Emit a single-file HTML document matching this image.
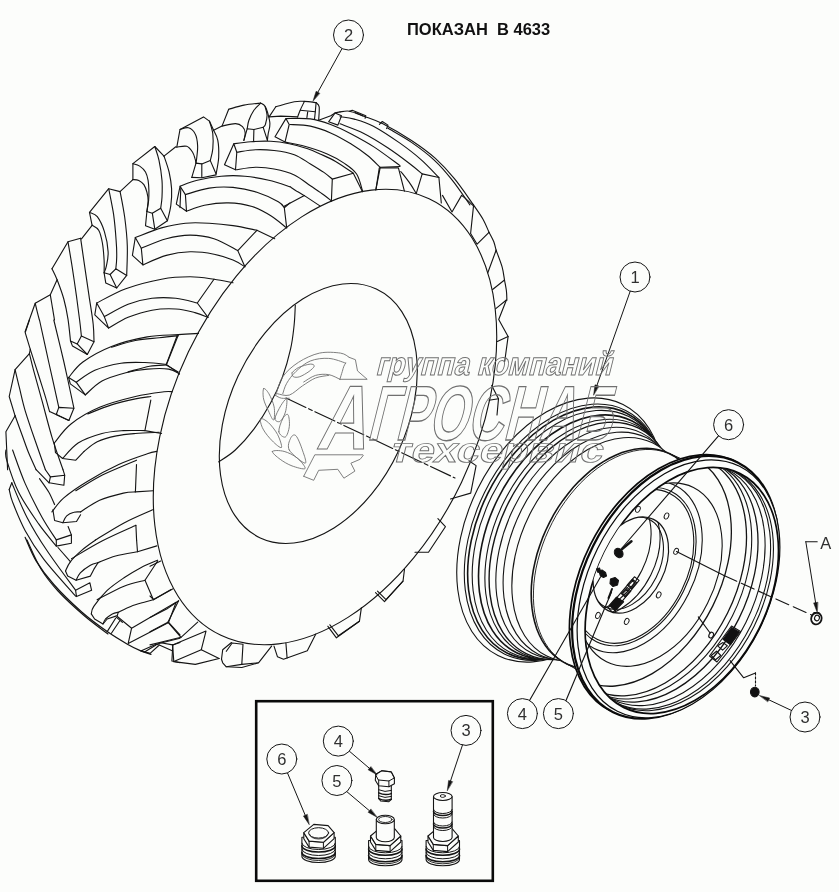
<!DOCTYPE html>
<html lang="ru"><head><meta charset="utf-8"><title>ПОКАЗАН В 4633</title>
<style>
html,body{margin:0;padding:0;background:#fcfdfb;}
body{width:839px;height:892px;overflow:hidden;}
svg{display:block;font-family:"Liberation Sans",sans-serif;}
path,ellipse,circle{stroke-linecap:round;stroke-linejoin:round;}
</style></head><body>
<svg width="839" height="892" viewBox="0 0 839 892">
<rect width="839" height="892" fill="#fcfdfb"/>
<!-- 00_ellipses.txt -->
<ellipse cx="325.0" cy="417.0" rx="151.3" ry="241.8" transform="rotate(25.5 325.0 417.0)" fill="none" stroke="#141414" stroke-width="1.12"/>
<ellipse cx="318.3" cy="413.5" rx="88.5" ry="137.3" transform="rotate(25.0 318.3 413.5)" fill="none" stroke="#141414" stroke-width="1.12"/>
<path d="M295.3 305.3 C295.1 308.6 294.9 318.1 294.1 325.3 C293.3 332.6 292.6 340.2 290.6 348.8 C288.7 357.4 285.7 368.1 282.4 377.1 C279.1 386.1 275.3 394.4 270.6 403.0 C265.9 411.6 260.0 421.0 254.1 428.8 C248.2 436.6 241.2 444.5 235.3 450.0 C229.4 455.5 221.6 459.8 218.8 461.8" fill="none" stroke="#141414" stroke-width="1.12"/>
<!-- 10_lugs_left.txt -->
<path d="M132.9 179.6 L132.9 163.6 L154.8 146.5 L164.0 156.1" fill="none" stroke="#141414" stroke-width="1.12"/>
<path d="M132.9 163.6 C134.1 164.0 137.6 164.7 139.7 166.1 C141.8 167.5 144.1 169.6 145.5 172.0 C146.9 174.4 147.5 177.3 148.1 180.4 C148.6 183.5 148.8 187.1 148.9 190.5 C149.0 193.9 148.9 197.1 148.6 200.6 C148.2 204.1 147.2 209.7 146.9 211.5" fill="none" stroke="#141414" stroke-width="1.12"/>
<path d="M132.9 179.6 C133.9 179.7 137.0 179.6 138.8 180.4 C140.6 181.3 142.5 182.7 143.9 184.6 C145.2 186.6 146.2 189.5 146.9 192.2 C147.6 194.8 148.1 197.4 148.1 200.6 C148.1 203.8 147.1 209.7 146.9 211.5" fill="none" stroke="#141414" stroke-width="1.12"/>
<path d="M154.8 146.5 C155.5 148.8 157.8 154.6 159.0 160.3 C160.2 165.9 161.5 174.3 162.0 180.4 C162.5 186.6 162.2 192.6 162.0 197.2 C161.8 201.8 160.9 206.3 160.7 208.2" fill="none" stroke="#141414" stroke-width="1.12"/>
<path d="M164.0 156.1 C164.9 158.7 167.8 166.6 169.1 172.0 C170.3 177.5 171.3 183.2 171.6 188.8 C171.9 194.4 171.5 200.3 170.8 205.6 C170.1 211.0 168.0 218.2 167.4 220.8" fill="none" stroke="#141414" stroke-width="1.12"/>
<path d="M146.9 211.5 L152.3 213.2 L160.7 208.2 L167.4 220.8 L154.8 229.2 L145.5 225.8 L146.9 211.5" fill="none" stroke="#141414" stroke-width="1.12"/>
<path d="M152.3 213.2 L154.8 229.2" fill="none" stroke="#141414" stroke-width="1.12"/>
<path d="M164.0 156.1 L175.8 146.8" fill="none" stroke="#141414" stroke-width="1.12"/>
<path d="M132.9 179.6 L120.3 191.3" fill="none" stroke="#141414" stroke-width="1.12"/>
<path d="M92.1 225.3 L89.5 212.4 L108.7 188.7 L120.1 191.6" fill="none" stroke="#141414" stroke-width="1.12"/>
<path d="M89.5 212.4 C90.8 213.2 94.8 213.5 97.3 216.7 C99.7 219.9 102.6 225.8 104.4 231.6 C106.2 237.4 107.8 245.9 108.1 251.6 C108.5 257.3 107.1 262.4 106.4 265.9 C105.7 269.5 104.5 271.6 104.1 272.8" fill="none" stroke="#141414" stroke-width="1.12"/>
<path d="M92.1 225.3 C93.2 226.1 97.0 227.2 98.7 230.2 C100.4 233.1 101.5 238.0 102.4 243.0 C103.3 248.0 103.8 255.2 104.1 260.2 C104.4 265.2 104.1 270.7 104.1 272.8" fill="none" stroke="#141414" stroke-width="1.12"/>
<path d="M108.7 188.7 C109.5 193.0 112.3 205.9 113.6 214.4 C114.8 223.0 115.6 233.0 116.1 240.2 C116.7 247.3 116.8 252.6 116.7 257.3 C116.7 262.1 116.0 266.9 115.8 268.8" fill="none" stroke="#141414" stroke-width="1.12"/>
<path d="M120.1 191.6 C120.9 195.8 123.5 208.2 124.7 217.3 C125.9 226.4 127.0 236.2 127.3 245.9 C127.6 255.6 126.8 270.5 126.7 275.4" fill="none" stroke="#141414" stroke-width="1.12"/>
<path d="M104.1 272.8 L110.1 274.5 L115.8 268.8 L126.7 275.4 L116.7 288.0 L105.8 283.1 L104.1 272.8" fill="none" stroke="#141414" stroke-width="1.12"/>
<path d="M110.1 274.5 L116.7 288.0" fill="none" stroke="#141414" stroke-width="1.12"/>
<path d="M92.1 225.3 L81.5 238.8" fill="none" stroke="#141414" stroke-width="1.12"/>
<path d="M52.0 268.7 L68.0 241.8 L80.6 238.2" fill="none" stroke="#141414" stroke-width="1.12"/>
<path d="M52.0 268.7 C52.9 270.6 55.1 274.6 57.1 279.7 C59.0 284.7 62.0 292.4 63.8 299.0 C65.6 305.6 66.9 312.2 68.0 319.2 C69.1 326.2 70.1 337.4 70.5 341.0" fill="none" stroke="#141414" stroke-width="1.12"/>
<path d="M68.0 241.8 C68.7 246.1 70.8 258.1 72.2 267.1 C73.6 276.0 75.1 286.7 76.4 295.6 C77.6 304.6 78.9 314.1 79.7 320.8 C80.6 327.6 81.1 333.4 81.4 336.0" fill="none" stroke="#141414" stroke-width="1.12"/>
<path d="M80.6 238.2 C81.3 243.0 83.4 257.5 84.8 267.1 C86.2 276.6 87.6 286.1 89.0 295.6 C90.4 305.2 92.4 316.5 93.2 324.2 C94.0 331.9 93.9 338.9 94.0 341.8" fill="none" stroke="#141414" stroke-width="1.12"/>
<path d="M70.5 341.0 L77.2 343.9 L81.4 336.0 L94.0 341.8 L87.3 354.5 L72.5 346.1 L70.5 341.0" fill="none" stroke="#141414" stroke-width="1.12"/>
<path d="M77.2 343.9 L87.3 354.5" fill="none" stroke="#141414" stroke-width="1.12"/>
<path d="M57.1 279.7 L50.3 294.8 L35.2 303.2 L25.1 331.8" fill="none" stroke="#141414" stroke-width="1.12"/>
<path d="M35.2 303.2 C35.5 304.6 36.5 308.8 37.2 311.6 C37.9 314.4 39.0 318.6 39.4 320.0" fill="none" stroke="#141414" stroke-width="1.12"/>
<path d="M50.3 294.8 C50.7 296.9 51.7 303.2 52.4 307.4 C53.1 311.6 54.2 317.9 54.5 320.0" fill="none" stroke="#141414" stroke-width="1.12"/>
<path d="M29.4 320.0 L25.2 332.6 L30.3 349.4" fill="none" stroke="#141414" stroke-width="1.12"/>
<path d="M30.3 349.4 C31.7 353.8 36.3 368.0 38.7 375.5 C41.0 382.9 42.7 387.9 44.5 393.9 C46.4 400.0 48.7 408.7 49.6 411.6" fill="none" stroke="#141414" stroke-width="1.12"/>
<path d="M39.5 320.0 C41.0 327.0 45.5 347.5 48.7 362.0 C52.0 376.6 57.1 399.8 58.8 407.4" fill="none" stroke="#141414" stroke-width="1.12"/>
<path d="M53.8 320.0 C55.5 327.0 60.5 347.3 63.9 362.0 C67.2 376.7 72.3 400.5 73.9 408.2" fill="none" stroke="#141414" stroke-width="1.12"/>
<path d="M49.6 411.6 L56.3 414.5 L58.8 407.4 L73.9 408.2 L68.9 420.5 L49.6 411.6" fill="none" stroke="#141414" stroke-width="1.12"/>
<path d="M56.3 414.5 L68.9 420.5" fill="none" stroke="#141414" stroke-width="1.12"/>
<path d="M30.3 349.4 L29.4 353.6 L15.1 369.6 L9.2 396.5 L15.1 415.8" fill="none" stroke="#141414" stroke-width="1.12"/>
<path d="M15.1 369.6 C15.8 372.5 17.6 380.4 19.3 387.2 C21.0 394.1 22.5 401.8 25.2 410.8 C27.9 419.7 31.9 431.2 35.3 441.0 C38.7 450.8 43.7 465.0 45.4 469.7" fill="none" stroke="#141414" stroke-width="1.12"/>
<path d="M29.4 353.6 C30.1 356.4 31.5 362.6 33.6 370.4 C35.7 378.3 38.9 389.5 42.0 400.7 C45.1 411.9 48.6 426.1 52.1 437.6 C55.6 449.2 61.2 464.4 63.0 469.7" fill="none" stroke="#141414" stroke-width="1.12"/>
<path d="M15.1 415.8 C16.2 418.9 19.6 428.1 21.8 434.3 C24.1 440.4 26.2 446.9 28.6 452.8 C31.0 458.7 34.9 466.9 36.1 469.7" fill="none" stroke="#141414" stroke-width="1.12"/>
<path d="M15.1 415.8 L5.9 431.8 L7.6 469.7" fill="none" stroke="#141414" stroke-width="1.12"/>
<!-- 12_lugs_top.txt -->
<path d="M176.8 147.1 L180.0 129.5 L203.5 116.9 L209.4 121.1 L213.6 130.3" fill="none" stroke="#141414" stroke-width="1.12"/>
<path d="M213.6 130.3 C214.3 132.0 217.0 135.9 217.8 140.4 C218.7 144.9 218.9 151.6 218.7 157.2 C218.4 162.8 216.6 171.2 216.1 174.0" fill="none" stroke="#141414" stroke-width="1.12"/>
<path d="M209.4 121.1 C210.0 123.2 212.2 129.1 212.8 133.7 C213.3 138.3 213.2 144.3 212.8 148.8 C212.4 153.3 210.7 158.6 210.3 160.6" fill="none" stroke="#141414" stroke-width="1.12"/>
<path d="M180.0 129.5 C181.4 129.2 185.9 127.1 188.4 127.8 C190.9 128.5 193.6 130.8 195.1 133.7 C196.7 136.6 197.4 141.5 197.6 145.5 C197.9 149.4 197.1 154.3 196.8 157.2 C196.5 160.2 196.1 162.1 196.0 163.1" fill="none" stroke="#141414" stroke-width="1.12"/>
<path d="M176.8 147.1 C178.5 147.0 184.1 145.5 186.7 146.3 C189.4 147.1 191.2 150.1 192.6 152.2 C194.0 154.3 194.6 157.1 195.1 158.9 C195.7 160.7 195.8 162.4 196.0 163.1" fill="none" stroke="#141414" stroke-width="1.12"/>
<path d="M191.8 177.4 L196.0 163.1 L201.8 163.9 L210.3 160.6 L216.1 174.0" fill="none" stroke="#141414" stroke-width="1.12"/>
<path d="M201.8 163.9 L201.8 177.4" fill="none" stroke="#141414" stroke-width="1.12"/>
<path d="M191.8 177.4 L201.8 177.7 L216.1 174.9" fill="none" stroke="#141414" stroke-width="1.12"/>
<path d="M213.6 130.3 L222.0 126.1 L228.7 109.3" fill="none" stroke="#141414" stroke-width="1.12"/>
<path d="M228.7 109.3 C231.3 108.6 238.5 106.2 243.9 105.1 C249.2 104.1 257.9 103.4 260.7 103.1" fill="none" stroke="#141414" stroke-width="1.12"/>
<path d="M260.7 103.1 C261.4 103.6 263.8 104.5 264.9 106.0 C266.0 107.4 266.6 108.9 267.4 111.8 C268.2 114.8 269.8 120.0 269.9 123.6 C270.1 127.3 268.7 130.9 268.2 133.7 C267.8 136.5 267.5 139.3 267.4 140.4" fill="none" stroke="#141414" stroke-width="1.12"/>
<path d="M222.0 126.1 C224.3 125.7 232.0 123.5 235.5 123.6 C238.9 123.7 240.9 125.1 242.5 126.6 C244.1 128.2 245.0 130.6 245.2 132.9 C245.4 135.2 244.1 139.2 243.9 140.4" fill="none" stroke="#141414" stroke-width="1.12"/>
<path d="M264.9 106.0 C265.2 107.5 267.0 112.1 267.1 115.2 C267.1 118.3 266.0 122.4 265.4 124.5 C264.7 126.5 263.6 126.8 263.2 127.3" fill="none" stroke="#141414" stroke-width="1.12"/>
<path d="M243.9 140.4 L247.2 128.7 L253.9 129.5 L263.2 127.3 L267.4 140.4" fill="none" stroke="#141414" stroke-width="1.12"/>
<path d="M253.9 129.5 L253.6 140.4" fill="none" stroke="#141414" stroke-width="1.12"/>
<path d="M260.7 103.1 C259.6 104.3 255.9 107.3 253.9 110.2 C252.0 113.0 250.0 117.2 248.9 120.3 C247.8 123.3 247.5 127.3 247.2 128.7" fill="none" stroke="#141414" stroke-width="1.12"/>
<path d="M269.1 116.9 L275.8 106.8" fill="none" stroke="#141414" stroke-width="1.12"/>
<path d="M275.8 106.8 C278.9 106.0 289.5 102.7 294.3 101.8 C299.0 100.9 300.7 101.3 304.4 101.4 C308.0 101.6 314.2 102.4 316.1 102.6" fill="none" stroke="#141414" stroke-width="1.12"/>
<path d="M316.1 102.6 C316.6 103.3 318.7 103.9 319.2 106.8 C319.6 109.7 318.7 118.0 318.7 120.3" fill="none" stroke="#141414" stroke-width="1.12"/>
<path d="M269.1 116.9 L280.8 116.1 L297.6 116.9" fill="none" stroke="#141414" stroke-width="1.12"/>
<path d="M304.4 101.4 C303.7 102.9 301.3 107.6 300.2 110.2 C299.0 112.7 298.1 115.8 297.6 116.9" fill="none" stroke="#141414" stroke-width="1.12"/>
<path d="M300.2 110.2 L315.3 111.8" fill="none" stroke="#141414" stroke-width="1.12"/>
<path d="M307.7 111.8 L306.9 117.7" fill="none" stroke="#141414" stroke-width="1.12"/>
<path d="M316.1 102.6 L315.3 111.8 L314.5 119.4" fill="none" stroke="#141414" stroke-width="1.12"/>
<!-- 14_lower_left.txt -->
<path d="M36.1 469.7 L49.1 482.8" fill="none" stroke="#141414" stroke-width="1.12"/>
<path d="M45.4 469.7 L50.4 476.9" fill="none" stroke="#141414" stroke-width="1.12"/>
<path d="M63.0 469.7 L64.7 475.2" fill="none" stroke="#141414" stroke-width="1.12"/>
<path d="M50.4 476.9 L64.7 475.2 L63.9 485.3 L49.1 482.8 L50.4 476.9" fill="none" stroke="#141414" stroke-width="1.12"/>
<path d="M5.9 450.0 C6.0 451.7 4.6 453.1 6.7 460.1 C8.8 467.1 13.2 481.4 18.5 492.0 C23.8 502.7 32.4 514.9 38.7 523.9 C45.0 533.0 53.4 542.4 56.3 546.1" fill="none" stroke="#141414" stroke-width="1.12"/>
<path d="M12.6 450.0 C14.7 455.6 20.3 472.4 25.2 483.6 C30.1 494.8 36.8 507.8 42.0 517.2 C47.2 526.6 53.9 536.1 56.3 539.9" fill="none" stroke="#141414" stroke-width="1.12"/>
<path d="M39.5 478.6 C41.0 480.8 46.2 487.7 48.7 492.0 C51.3 496.4 53.6 502.5 54.6 504.6" fill="none" stroke="#141414" stroke-width="1.12"/>
<path d="M68.1 526.5 L71.4 534.9" fill="none" stroke="#141414" stroke-width="1.12"/>
<path d="M56.3 539.9 L71.4 534.9 L71.4 543.3 L56.3 546.1 L56.3 539.9" fill="none" stroke="#141414" stroke-width="1.12"/>
<path d="M11.8 482.8 L9.2 489.5" fill="none" stroke="#141414" stroke-width="1.12"/>
<path d="M9.2 489.5 C9.8 491.6 9.9 495.2 12.6 502.1 C15.3 509.0 20.0 521.1 25.2 530.7 C30.4 540.2 35.3 548.3 43.7 559.2 C52.1 570.2 70.3 590.1 75.6 596.2" fill="none" stroke="#141414" stroke-width="1.12"/>
<path d="M11.8 482.8 C14.3 488.5 21.0 505.9 26.9 517.2 C32.8 528.6 38.9 538.7 47.1 550.8 C55.2 563.0 70.9 583.8 75.6 590.3" fill="none" stroke="#141414" stroke-width="1.12"/>
<path d="M58.0 547.5 L70.6 561.8" fill="none" stroke="#141414" stroke-width="1.12"/>
<path d="M75.6 590.3 L89.9 582.8 L91.6 590.3 L76.5 596.6 L75.6 590.3" fill="none" stroke="#141414" stroke-width="1.12"/>
<path d="M95.5 540.0 C93.2 541.7 86.2 546.4 82.0 550.1 C77.8 553.7 73.0 558.3 70.3 561.8 C67.5 565.4 66.3 569.6 65.5 571.1" fill="none" stroke="#141414" stroke-width="1.12"/>
<path d="M65.5 571.1 L67.7 576.1 L76.1 580.3 L90.4 576.1 L93.8 569.4 L98.0 562.7" fill="none" stroke="#141414" stroke-width="1.12"/>
<path d="M76.1 580.3 C76.8 579.1 78.0 575.3 80.3 572.8 C82.7 570.3 87.5 566.9 90.4 565.2 C93.4 563.5 96.7 563.1 98.0 562.7" fill="none" stroke="#141414" stroke-width="1.12"/>
<path d="M98.0 562.7 C100.9 561.6 109.0 557.8 115.6 556.0 C122.2 554.1 133.8 552.5 137.5 551.8" fill="none" stroke="#141414" stroke-width="1.12"/>
<path d="M136.6 540.0 L137.5 551.8 L156.8 545.9" fill="none" stroke="#141414" stroke-width="1.12"/>
<path d="M91.3 613.9 C91.7 612.7 91.1 610.3 93.8 606.4 C96.4 602.5 102.2 595.2 107.2 590.4 C112.3 585.7 118.4 581.6 124.0 577.8 C129.6 574.0 135.2 570.7 140.8 567.7 C146.4 564.8 154.8 561.4 157.6 560.2" fill="none" stroke="#141414" stroke-width="1.12"/>
<path d="M91.3 613.9 L94.6 619.0 L103.0 624.0 L107.2 619.0 L117.3 615.6 L118.2 612.3" fill="none" stroke="#141414" stroke-width="1.12"/>
<path d="M103.0 624.0 C103.4 623.2 104.0 620.7 105.5 619.0 C107.1 617.3 110.2 615.1 112.3 613.9 C114.4 612.8 117.2 612.5 118.2 612.3" fill="none" stroke="#141414" stroke-width="1.12"/>
<path d="M97.1 599.7 C101.6 597.4 116.1 589.4 124.0 586.2 C132.0 583.0 141.5 581.3 145.0 580.3" fill="none" stroke="#141414" stroke-width="1.12"/>
<path d="M157.6 561.0 L145.0 580.3 L153.4 599.7 L171.1 589.6" fill="none" stroke="#141414" stroke-width="1.12"/>
<path d="M118.2 612.3 C120.3 611.3 126.4 608.1 130.8 606.4 C135.1 604.7 140.4 603.3 144.2 602.2 C148.0 601.1 151.9 600.1 153.4 599.7" fill="none" stroke="#141414" stroke-width="1.12"/>
<path d="M107.2 631.6 L115.6 618.2" fill="none" stroke="#141414" stroke-width="1.12"/>
<path d="M111.4 633.3 L119.8 620.7" fill="none" stroke="#141414" stroke-width="1.12"/>
<path d="M116.5 617.3 L122.4 622.4" fill="none" stroke="#141414" stroke-width="1.12"/>
<path d="M117.3 616.5 L131.6 628.2 L128.2 643.4 L168.6 622.4 L176.1 602.2 L131.6 628.2" fill="none" stroke="#141414" stroke-width="1.12"/>
<path d="M168.6 622.4 L180.0 635.0" fill="none" stroke="#141414" stroke-width="1.12"/>
<path d="M140.8 650.9 L156.0 644.2 L159.3 645.0 L150.1 653.4 L140.8 650.9" fill="none" stroke="#141414" stroke-width="1.12"/>
<path d="M145.0 651.8 L156.0 645.0" fill="none" stroke="#141414" stroke-width="1.12"/>
<path d="M180.0 642.5 L172.8 645.0 L171.9 661.0 L180.0 662.7" fill="none" stroke="#141414" stroke-width="1.12"/>
<path d="M159.3 645.0 L172.8 650.9" fill="none" stroke="#141414" stroke-width="1.12"/>
<path d="M156.0 644.2 L180.0 638.3" fill="none" stroke="#141414" stroke-width="1.12"/>
<path d="M52.9 509.8 L54.6 520.5 L62.9 522.7 L76.5 521.5 L80.6 514.8" fill="none" stroke="#141414" stroke-width="1.12"/>
<path d="M62.9 522.7 C63.6 521.5 64.9 517.5 66.7 515.8 C68.6 514.0 71.6 512.8 73.9 512.2 C76.2 511.5 79.5 512.0 80.6 511.9" fill="none" stroke="#141414" stroke-width="1.12"/>
<path d="M95.4 540.1 C100.1 537.2 114.4 528.0 124.0 522.9 C133.5 517.9 147.8 512.0 152.6 509.8" fill="none" stroke="#141414" stroke-width="1.12"/>
<path d="M71.5 558.7 C76.7 555.7 91.8 546.3 102.5 540.8 C113.2 535.2 130.3 527.9 135.9 525.3" fill="none" stroke="#141414" stroke-width="1.12"/>
<path d="M135.9 525.3 L136.6 540.1" fill="none" stroke="#141414" stroke-width="1.12"/>
<path d="M25.2 537.4 C27.0 541.3 31.3 553.0 36.1 560.9 C40.9 568.8 46.1 575.9 53.8 584.5 C61.4 593.1 73.1 604.4 82.0 612.3 C90.9 620.1 99.6 626.3 107.2 631.6 C114.8 636.9 121.8 641.0 127.4 644.2 C133.0 647.4 136.9 649.2 140.8 650.9 C144.7 652.6 149.3 653.7 151.0 654.3" fill="none" stroke="#141414" stroke-width="1.25"/>
<path d="M27.0 540.0 C29.3 544.8 35.8 560.5 41.0 569.0 C46.2 577.5 50.8 583.2 58.0 591.0 C65.2 598.8 75.7 608.3 84.0 615.5 C92.3 622.7 104.0 630.9 108.0 634.0" fill="none" stroke="#141414" stroke-width="1.12"/>
<!-- 16_bottom.txt -->
<path d="M150.0 566.2 L160.7 561.0" fill="none" stroke="#141414" stroke-width="1.12"/>
<path d="M150.0 596.0 L153.6 599.6 L172.6 588.9" fill="none" stroke="#141414" stroke-width="1.12"/>
<path d="M150.0 617.5 L166.7 609.1 L178.6 600.8" fill="none" stroke="#141414" stroke-width="1.12"/>
<path d="M178.6 600.8 L167.9 622.2 L181.0 637.3 L197.7 622.2" fill="none" stroke="#141414" stroke-width="1.12"/>
<path d="M167.9 622.2 L150.0 631.8" fill="none" stroke="#141414" stroke-width="1.12"/>
<path d="M150.0 644.9 L159.5 642.5 L181.0 637.3" fill="none" stroke="#141414" stroke-width="1.12"/>
<path d="M172.6 644.9 L173.8 661.6 L195.3 664.4 L219.1 658.5" fill="none" stroke="#141414" stroke-width="1.12"/>
<path d="M172.6 644.9 L206.0 631.1 L201.3 649.7 L173.8 661.6" fill="none" stroke="#141414" stroke-width="1.12"/>
<path d="M201.3 649.7 L219.1 658.5" fill="none" stroke="#141414" stroke-width="1.12"/>
<path d="M159.5 642.5 L172.6 644.9" fill="none" stroke="#141414" stroke-width="1.12"/>
<path d="M221.5 659.2 L222.7 649.7 L231.5 642.5" fill="none" stroke="#141414" stroke-width="1.12"/>
<path d="M226.3 651.3 L232.2 643.0 L243.0 644.2 L241.8 664.4 L258.5 662.8 L271.6 646.1" fill="none" stroke="#141414" stroke-width="1.12"/>
<path d="M221.5 659.2 L222.7 662.8 L226.3 666.8 L241.8 667.5 L258.5 662.8" fill="none" stroke="#141414" stroke-width="1.12"/>
<path d="M226.3 666.8 L241.8 664.4" fill="none" stroke="#141414" stroke-width="1.12"/>
<path d="M274.0 646.1 L277.5 656.8 L283.5 659.2 L307.3 650.8 L315.7 634.2" fill="none" stroke="#141414" stroke-width="1.12"/>
<path d="M285.9 643.0 L287.1 658.0" fill="none" stroke="#141414" stroke-width="1.12"/>
<path d="M327.9 626.3 L336.4 637.8 L359.4 621.3 L361.4 607.7" fill="none" stroke="#141414" stroke-width="1.12"/>
<path d="M329.9 624.8 L338.4 635.8 L359.4 621.3" fill="none" stroke="#141414" stroke-width="1.12"/>
<path d="M375.5 592.7 L384.5 601.7 L403.0 581.2 L404.5 569.2" fill="none" stroke="#141414" stroke-width="1.12"/>
<path d="M377.5 591.2 L386.0 599.7 L403.0 581.2" fill="none" stroke="#141414" stroke-width="1.12"/>
<!-- 20_front_bars.txt -->
<path d="M68.6 377.5 C71.0 374.9 75.8 367.1 82.9 362.0 C90.1 356.8 100.8 350.7 111.5 346.5 C122.2 342.3 136.1 338.9 147.3 336.9 C158.4 335.0 169.7 335.2 178.3 334.6 C186.8 334.0 195.1 333.6 198.5 333.4" fill="none" stroke="#141414" stroke-width="1.12"/>
<path d="M68.6 377.5 L70.3 383.9 L85.3 394.9" fill="none" stroke="#141414" stroke-width="1.12"/>
<path d="M68.6 377.5 L76.2 382.2 L85.3 394.9" fill="none" stroke="#141414" stroke-width="1.12"/>
<path d="M76.2 382.2 C79.3 380.3 87.4 373.5 94.8 370.3 C102.3 367.1 112.7 364.5 121.0 363.2 C129.4 361.9 137.3 362.3 144.9 362.5 C152.4 362.7 162.8 364.0 166.3 364.4" fill="none" stroke="#141414" stroke-width="1.12"/>
<path d="M85.3 394.9 C88.1 392.6 95.2 384.7 102.0 381.0 C108.7 377.4 118.3 374.7 125.8 372.7 C133.4 370.7 140.1 369.7 147.3 369.1 C154.4 368.5 163.4 368.3 168.7 369.1 C174.1 369.9 177.7 373.1 179.5 373.9" fill="none" stroke="#141414" stroke-width="1.12"/>
<path d="M177.1 335.8 L166.3 364.4 L179.5 373.9" fill="none" stroke="#141414" stroke-width="1.12"/>
<path d="M111.5 347.2 C115.5 346.1 127.4 342.1 135.4 340.5 C143.3 338.9 152.0 338.5 159.2 337.7 C166.3 336.9 175.1 336.1 178.3 335.8" fill="none" stroke="#141414" stroke-width="1.12"/>
<path d="M54.3 443.0 C57.1 439.8 63.4 429.9 71.0 424.0 C78.5 418.0 88.9 411.8 99.6 407.3 C110.3 402.7 124.6 399.1 135.4 396.5 C146.1 394.0 157.8 392.6 164.0 391.8 C170.1 391.0 170.9 391.8 172.3 391.8" fill="none" stroke="#141414" stroke-width="1.12"/>
<path d="M54.3 443.0 L55.5 452.6 L62.6 458.5 L75.8 460.2 L84.1 451.4" fill="none" stroke="#141414" stroke-width="1.12"/>
<path d="M62.6 458.5 C65.2 455.9 71.6 447.2 78.1 443.0 C84.7 438.9 94.4 435.6 102.0 433.5 C109.5 431.4 116.3 431.1 123.4 430.6 C130.6 430.2 141.3 430.6 144.9 430.6" fill="none" stroke="#141414" stroke-width="1.12"/>
<path d="M84.1 451.4 C86.3 449.8 91.8 444.4 97.2 441.8 C102.6 439.3 109.9 437.3 116.3 435.9 C122.6 434.5 128.2 434.1 135.4 433.5 C142.5 432.9 155.2 432.5 159.2 432.3" fill="none" stroke="#141414" stroke-width="1.12"/>
<path d="M150.8 400.1 L144.9 430.6 L161.6 433.5" fill="none" stroke="#141414" stroke-width="1.12"/>
<path d="M87.7 413.9 C91.6 412.4 103.6 407.4 111.5 404.9 C119.5 402.4 128.8 400.3 135.4 398.9 C141.9 397.5 148.3 396.9 150.8 396.5" fill="none" stroke="#141414" stroke-width="1.12"/>
<path d="M51.9 511.9 C53.9 509.6 57.9 503.0 63.8 497.9 C69.8 492.7 78.5 486.7 87.7 481.2 C96.8 475.6 108.7 469.1 118.7 464.5 C128.6 459.9 140.9 455.9 147.3 453.8 C153.6 451.6 155.2 451.8 156.8 451.4" fill="none" stroke="#141414" stroke-width="1.12"/>
<path d="M80.5 511.9 C83.7 510.0 92.4 503.4 99.6 500.2 C106.7 497.1 117.5 494.5 123.4 493.1 C129.4 491.7 133.4 492.1 135.4 491.9" fill="none" stroke="#141414" stroke-width="1.12"/>
<path d="M136.5 464.5 L135.4 491.9 L153.2 490.7" fill="none" stroke="#141414" stroke-width="1.12"/>
<path d="M75.8 490.7 C79.7 488.3 91.6 480.6 99.6 476.4 C107.5 472.2 117.3 468.4 123.4 465.7 C129.6 463.0 134.4 461.1 136.5 460.2" fill="none" stroke="#141414" stroke-width="1.12"/>
<path d="M180.1 186.2 L176.3 204.1 L186.5 211.3 L185.4 194.6 L180.1 186.2" fill="none" stroke="#141414" stroke-width="1.12"/>
<path d="M180.1 186.2 C183.0 185.2 190.4 181.9 197.3 180.3 C204.1 178.6 213.2 176.9 221.1 176.2 C229.1 175.5 237.0 175.5 244.9 176.2 C252.9 176.9 261.3 178.5 268.8 180.3 C276.3 182.0 286.5 185.6 290.0 186.7" fill="none" stroke="#141414" stroke-width="1.12"/>
<path d="M185.4 194.6 C189.3 193.5 201.2 189.3 209.2 188.1 C217.1 186.9 225.1 186.7 233.0 187.4 C241.0 188.1 249.3 189.8 256.9 192.2 C264.4 194.6 273.8 199.1 278.3 201.7 C282.9 204.3 283.3 206.7 284.3 207.7" fill="none" stroke="#141414" stroke-width="1.12"/>
<path d="M186.5 211.3 C189.5 210.3 197.5 206.7 204.4 205.3 C211.4 203.9 220.3 202.7 228.3 202.9 C236.2 203.1 244.9 204.3 252.1 206.5 C259.2 208.7 265.4 212.4 271.2 216.0 C276.9 219.6 284.1 226.0 286.7 227.9" fill="none" stroke="#141414" stroke-width="1.12"/>
<path d="M290.0 202.9 L284.3 207.7 L286.7 227.9" fill="none" stroke="#141414" stroke-width="1.12"/>
<path d="M135.3 237.5 L132.4 255.4 L142.9 264.9 L141.3 248.2 L135.3 237.5" fill="none" stroke="#141414" stroke-width="1.12"/>
<path d="M135.3 237.5 C139.7 235.9 153.2 230.3 161.5 227.9 C169.9 225.6 177.4 224.0 185.4 223.2 C193.3 222.4 201.2 222.8 209.2 223.2 C217.1 223.6 225.1 224.4 233.0 225.6 C241.0 226.7 252.9 229.5 256.9 230.3" fill="none" stroke="#141414" stroke-width="1.12"/>
<path d="M141.3 248.2 C145.4 246.6 158.1 240.9 166.3 238.7 C174.4 236.5 182.2 235.1 190.1 235.1 C198.1 235.1 206.0 236.1 214.0 238.7 C221.9 241.2 233.8 248.6 237.8 250.6" fill="none" stroke="#141414" stroke-width="1.12"/>
<path d="M142.9 264.9 C146.8 263.3 158.4 257.5 166.3 255.4 C174.1 253.2 182.2 252.0 190.1 251.8 C198.1 251.6 206.8 252.8 214.0 254.2 C221.1 255.6 227.9 258.0 233.0 260.1 C238.2 262.2 243.0 265.7 244.9 266.8" fill="none" stroke="#141414" stroke-width="1.12"/>
<path d="M256.9 230.3 L237.8 250.6 L244.9 266.8" fill="none" stroke="#141414" stroke-width="1.12"/>
<path d="M256.9 230.3 L274.7 238.7" fill="none" stroke="#141414" stroke-width="1.12"/>
<path d="M96.7 303.0 L94.8 314.9 L108.6 328.1 L104.3 316.6 L96.7 303.0" fill="none" stroke="#141414" stroke-width="1.12"/>
<path d="M96.7 303.0 C101.5 300.6 115.0 292.7 125.8 288.7 C136.6 284.8 150.8 281.2 161.5 279.2 C172.2 277.2 181.4 276.8 190.1 276.8 C198.9 276.8 206.8 278.2 214.0 279.2 C221.1 280.2 229.8 282.2 233.0 282.8" fill="none" stroke="#141414" stroke-width="1.12"/>
<path d="M104.3 316.6 C108.3 314.5 120.2 307.3 128.1 304.2 C136.1 301.2 144.0 299.3 152.0 298.3 C159.9 297.3 168.3 297.5 175.8 298.3 C183.4 299.1 193.7 302.2 197.3 303.0" fill="none" stroke="#141414" stroke-width="1.12"/>
<path d="M108.6 328.1 C111.9 326.3 120.9 320.3 128.1 317.3 C135.4 314.4 144.0 311.6 152.0 310.2 C159.9 308.8 168.7 308.6 175.8 309.0 C183.0 309.4 189.5 311.2 194.9 312.6 C200.3 314.0 205.8 316.5 208.0 317.3" fill="none" stroke="#141414" stroke-width="1.12"/>
<path d="M214.0 279.2 L197.3 303.0 L208.0 317.3" fill="none" stroke="#141414" stroke-width="1.12"/>
<path d="M128.1 371.9 C131.7 371.0 143.2 367.4 149.6 366.2 C156.0 365.0 163.5 365.2 166.3 365.0" fill="none" stroke="#141414" stroke-width="1.12"/>
<path d="M178.2 335.2 L166.3 365.0 L178.2 371.9" fill="none" stroke="#141414" stroke-width="1.12"/>
<path d="M285.9 118.6 L275.0 136.7 L285.0 142.1 L289.2 124.5 L285.9 118.6" fill="none" stroke="#141414" stroke-width="1.12"/>
<path d="M233.8 143.8 L224.5 164.8 L235.5 169.8 L236.8 152.2 L233.8 143.8" fill="none" stroke="#141414" stroke-width="1.12"/>
<path d="M233.8 143.8 C236.6 143.4 244.4 142.2 250.6 141.8 C256.8 141.3 264.3 140.9 270.8 141.3 C277.2 141.6 283.1 142.5 289.2 143.8 C295.4 145.0 302.6 147.1 307.7 148.8 C312.9 150.5 315.4 151.8 320.0 153.9 C324.6 156.0 330.1 158.2 335.6 161.4 C341.2 164.6 350.3 171.2 353.3 173.2" fill="none" stroke="#141414" stroke-width="1.12"/>
<path d="M236.8 152.2 C239.9 151.8 249.4 149.9 255.6 149.7 C261.8 149.4 267.7 149.7 274.1 150.5 C280.6 151.3 288.2 152.5 294.3 154.7 C300.3 156.9 305.5 161.0 310.4 163.9 C315.4 166.9 320.2 169.8 323.9 172.4 C327.5 174.9 330.9 178.0 332.3 179.1" fill="none" stroke="#141414" stroke-width="1.12"/>
<path d="M235.5 169.8 C238.8 169.4 249.2 167.5 255.6 167.3 C262.1 167.2 267.7 167.7 274.1 169.0 C280.6 170.3 288.2 172.1 294.3 174.9 C300.3 177.7 305.5 182.4 310.4 185.8 C315.4 189.2 320.4 192.5 323.9 195.0 C327.4 197.6 330.2 199.9 331.4 200.9" fill="none" stroke="#141414" stroke-width="1.12"/>
<path d="M180.8 188.3 L180.0 207.6" fill="none" stroke="#141414" stroke-width="1.12"/>
<path d="M286.1 118.6 C290.1 118.6 303.0 117.9 310.4 118.9 C317.8 119.9 323.9 122.0 330.6 124.5 C337.3 126.9 343.5 129.9 350.8 133.7 C358.0 137.5 366.1 141.8 374.3 147.1 C382.5 152.5 395.7 162.5 400.0 165.6" fill="none" stroke="#141414" stroke-width="1.12"/>
<path d="M289.9 124.5 C293.3 124.7 303.6 124.7 310.4 126.1 C317.2 127.5 323.9 129.9 330.6 132.9 C337.3 135.8 344.6 140.0 350.8 143.8 C356.9 147.6 362.7 151.6 367.6 155.5 C372.5 159.5 378.1 165.4 380.2 167.3" fill="none" stroke="#141414" stroke-width="1.12"/>
<path d="M285.2 142.1 C288.0 142.7 295.0 143.5 302.0 145.5 C309.0 147.4 320.2 150.9 327.2 153.9 C334.2 156.8 339.1 159.7 344.0 163.1 C348.9 166.5 353.6 169.4 356.6 174.0 C359.7 178.7 361.5 188.0 362.5 190.8" fill="none" stroke="#141414" stroke-width="1.12"/>
<path d="M400.0 166.5 L380.2 167.3 L376.0 189.2" fill="none" stroke="#141414" stroke-width="1.12"/>
<path d="M331.4 200.9 L332.3 179.1 L353.3 173.2 L362.5 191.7" fill="none" stroke="#141414" stroke-width="1.12"/>
<path d="M290.1 186.8 C291.3 187.6 294.9 190.1 297.3 191.6 C299.7 193.0 303.2 194.9 304.4 195.6" fill="none" stroke="#141414" stroke-width="1.12"/>
<path d="M284.2 206.3 L304.4 195.6 L319.9 205.9" fill="none" stroke="#141414" stroke-width="1.12"/>
<!-- 22_top_right.txt -->
<path d="M340.0 111.9 C341.6 111.8 345.6 110.5 349.5 111.2 C353.5 111.9 358.3 114.1 363.8 116.2 C369.4 118.3 375.0 119.8 382.9 123.8 C390.9 127.9 402.8 134.8 411.5 140.5 C420.3 146.3 428.2 152.0 435.4 158.4 C442.5 164.8 448.1 170.9 454.4 178.7 C460.8 186.4 470.3 200.5 473.5 204.9" fill="none" stroke="#141414" stroke-width="1.12"/>
<path d="M387.7 128.1 C391.6 130.5 403.8 137.1 411.5 142.4 C419.3 147.8 427.4 153.8 434.2 160.1 C440.9 166.3 446.1 172.4 452.0 179.9 C458.0 187.3 466.9 200.7 469.9 204.9" fill="none" stroke="#141414" stroke-width="1.12"/>
<path d="M375.8 190.1 L379.3 167.9 L398.4 167.9 L404.4 191.1" fill="none" stroke="#141414" stroke-width="1.12"/>
<path d="M340.0 116.7 C342.4 117.1 348.7 117.5 354.3 119.1 C359.9 120.7 365.8 122.2 373.4 126.2 C380.9 130.2 391.6 137.3 399.6 142.9 C407.5 148.5 414.5 153.8 421.0 159.6 C427.6 165.4 435.9 174.5 438.9 177.5" fill="none" stroke="#141414" stroke-width="1.12"/>
<path d="M340.0 123.8 C344.0 125.4 355.9 129.4 363.8 133.4 C371.8 137.3 380.1 142.7 387.7 147.7 C395.2 152.6 403.4 158.8 409.1 163.2 C414.9 167.5 420.1 172.1 422.2 173.9" fill="none" stroke="#141414" stroke-width="1.12"/>
<path d="M400.8 171.5 C402.2 173.3 406.5 178.6 409.1 182.2 C411.7 185.9 415.1 191.6 416.3 193.4" fill="none" stroke="#141414" stroke-width="1.12"/>
<path d="M416.3 193.4 L422.2 173.9 L438.9 177.5 L441.3 203.0" fill="none" stroke="#141414" stroke-width="1.12"/>
<path d="M442.5 195.4 L452.0 212.0 L461.6 195.4" fill="none" stroke="#141414" stroke-width="1.12"/>
<path d="M461.6 195.4 C462.8 196.3 466.7 199.5 468.7 201.3 C470.7 203.1 472.7 205.3 473.5 206.1" fill="none" stroke="#141414" stroke-width="1.12"/>
<path d="M473.5 206.1 L470.6 233.5 L477.1 244.2 L489.0 232.3" fill="none" stroke="#141414" stroke-width="1.12"/>
<path d="M473.5 204.9 C475.1 207.3 480.4 214.6 483.0 219.2 C485.6 223.8 488.0 230.1 489.0 232.3" fill="none" stroke="#141414" stroke-width="1.12"/>
<path d="M489.0 232.3 C489.8 233.9 492.6 238.9 493.8 241.8 C494.9 244.8 495.7 248.8 496.1 250.2" fill="none" stroke="#141414" stroke-width="1.12"/>
<path d="M496.1 250.2 L487.8 272.8" fill="none" stroke="#141414" stroke-width="1.12"/>
<path d="M496.1 250.2 C497.1 253.0 500.7 261.9 502.1 266.9 C503.5 271.8 504.1 277.8 504.5 280.0" fill="none" stroke="#141414" stroke-width="1.12"/>
<path d="M492.6 289.5 L504.5 280.0" fill="none" stroke="#141414" stroke-width="1.12"/>
<path d="M504.5 280.0 C504.8 281.8 506.0 287.3 506.4 290.7 C506.8 294.1 506.8 298.6 506.9 300.2" fill="none" stroke="#141414" stroke-width="1.12"/>
<path d="M319.3 120.0 L330.8 115.8 L335.1 112.9 L340.1 111.9" fill="none" stroke="#141414" stroke-width="1.12"/>
<path d="M335.1 112.9 L328.6 121.8 L337.9 125.1 L341.5 115.8 L335.1 112.9" fill="none" stroke="#141414" stroke-width="1.12"/>
<path d="M349.4 111.2 L352.2 110.3 L365.8 115.8 L365.1 118.3" fill="none" stroke="#141414" stroke-width="1.12"/>
<path d="M355.1 112.6 L362.9 115.8" fill="none" stroke="#141414" stroke-width="1.12"/>
<path d="M379.4 124.3 L382.3 121.5 L388.0 125.1 L386.6 128.6" fill="none" stroke="#141414" stroke-width="1.12"/>
<!-- 30_tire_right.txt -->
<path d="M506.4 300.0 L498.7 319.5 L508.1 336.6 L504.7 361.5" fill="none" stroke="#141414" stroke-width="1.12"/>
<path d="M495.8 308.6 L506.4 300.0" fill="none" stroke="#141414" stroke-width="1.12"/>
<path d="M497.3 341.5 L508.1 336.6" fill="none" stroke="#141414" stroke-width="1.12"/>
<path d="M491.7 385.4 L498.5 398.8 L489.0 400.2" fill="none" stroke="#141414" stroke-width="1.12"/>
<path d="M498.5 398.8 L497.0 415.0" fill="none" stroke="#141414" stroke-width="1.12"/>
<path d="M468.9 460.8 L476.1 465.6 L470.7 493.1 L450.5 499.0" fill="none" stroke="#141414" stroke-width="1.12"/>
<path d="M437.9 518.7 L445.4 526.7 L428.5 552.3 L415.0 552.3" fill="none" stroke="#141414" stroke-width="1.12"/>
<g id="parts">
<path d="M301.9 837.2 L301.9 856.2 A16.7 6.3 0 0 0 335.3 856.2 L335.3 837.2 Z" fill="#fcfdfb" stroke="#141414" stroke-width="1.10" stroke-linejoin="round"/>
<path d="M301.9 843.2 A16.7 6.3 0 0 0 335.3 843.2" fill="none" stroke="#141414" stroke-width="1.00" stroke-linejoin="round"/>
<path d="M301.9 845.7 A16.7 6.3 0 0 0 335.3 845.7" fill="none" stroke="#141414" stroke-width="1.60" stroke-linejoin="round"/>
<path d="M301.9 849.2 A16.7 6.3 0 0 0 335.3 849.2" fill="none" stroke="#141414" stroke-width="1.00" stroke-linejoin="round"/>
<path d="M301.9 852.2 A16.7 6.3 0 0 0 335.3 852.2" fill="none" stroke="#141414" stroke-width="1.60" stroke-linejoin="round"/>
<path d="M301.9 854.2 A16.7 6.3 0 0 0 335.3 854.2" fill="none" stroke="#141414" stroke-width="0.90" stroke-linejoin="round"/>
<path d="M303.8 832.7 L309.1 841.1 L323.4 842.3 L334.1 832.7 L334.1 838.7 L323.4 848.3 L309.1 847.1 L303.8 838.7Z" fill="#fcfdfb" stroke="#141414" stroke-width="1.10" stroke-linejoin="round"/>
<path d="M309.1 841.1 L309.1 847.1" fill="none" stroke="#141414" stroke-width="1.00" stroke-linejoin="round"/>
<path d="M323.4 842.3 L323.4 848.3" fill="none" stroke="#141414" stroke-width="1.00" stroke-linejoin="round"/>
<path d="M303.8 832.7 L313.8 824.4 L328.1 825.6 L334.1 832.7 L323.4 842.3 L309.1 841.1Z" fill="#fcfdfb" stroke="#141414" stroke-width="1.10" stroke-linejoin="round"/>
<ellipse cx="318.6" cy="832.9" rx="10.0" ry="5.2" fill="none" stroke="#141414" stroke-width="1.00"/>
<path d="M309.6 834.4 A9 4.6 0 0 0 327.6 834.4" fill="none" stroke="#141414" stroke-width="0.80" stroke-linejoin="round"/>
<path d="M368.6 840.5 L368.6 859.5 A16.7 6.3 0 0 0 402.0 859.5 L402.0 840.5 Z" fill="#fcfdfb" stroke="#141414" stroke-width="1.10" stroke-linejoin="round"/>
<path d="M368.6 846.5 A16.7 6.3 0 0 0 402.0 846.5" fill="none" stroke="#141414" stroke-width="1.00" stroke-linejoin="round"/>
<path d="M368.6 849.0 A16.7 6.3 0 0 0 402.0 849.0" fill="none" stroke="#141414" stroke-width="1.60" stroke-linejoin="round"/>
<path d="M368.6 852.5 A16.7 6.3 0 0 0 402.0 852.5" fill="none" stroke="#141414" stroke-width="1.00" stroke-linejoin="round"/>
<path d="M368.6 855.5 A16.7 6.3 0 0 0 402.0 855.5" fill="none" stroke="#141414" stroke-width="1.60" stroke-linejoin="round"/>
<path d="M368.6 857.5 A16.7 6.3 0 0 0 402.0 857.5" fill="none" stroke="#141414" stroke-width="0.90" stroke-linejoin="round"/>
<path d="M370.5 836.0 L375.8 844.4 L390.1 845.6 L400.8 836.0 L400.8 842.0 L390.1 851.6 L375.8 850.4 L370.5 842.0Z" fill="#fcfdfb" stroke="#141414" stroke-width="1.10" stroke-linejoin="round"/>
<path d="M375.8 844.4 L375.8 850.4" fill="none" stroke="#141414" stroke-width="1.00" stroke-linejoin="round"/>
<path d="M390.1 845.6 L390.1 851.6" fill="none" stroke="#141414" stroke-width="1.00" stroke-linejoin="round"/>
<path d="M370.5 836.0 L380.5 827.7 L394.8 828.9 L400.8 836.0 L390.1 845.6 L375.8 844.4Z" fill="#fcfdfb" stroke="#141414" stroke-width="1.10" stroke-linejoin="round"/>
<path d="M376.3 819.5 L376.3 837.5 A9 4.2 0 0 0 394.3 837.5 L394.3 819.5 Z" fill="#fcfdfb" stroke="#141414" stroke-width="1.10" stroke-linejoin="round"/>
<ellipse cx="385.3" cy="819.5" rx="9.0" ry="4.2" fill="#fcfdfb" stroke="#141414" stroke-width="1.10"/>
<ellipse cx="385.3" cy="819.5" rx="6.7" ry="3.0" fill="none" stroke="#141414" stroke-width="0.90"/>
<path d="M426.1 840.5 L426.1 859.5 A16.7 6.3 0 0 0 459.5 859.5 L459.5 840.5 Z" fill="#fcfdfb" stroke="#141414" stroke-width="1.10" stroke-linejoin="round"/>
<path d="M426.1 846.5 A16.7 6.3 0 0 0 459.5 846.5" fill="none" stroke="#141414" stroke-width="1.00" stroke-linejoin="round"/>
<path d="M426.1 849.0 A16.7 6.3 0 0 0 459.5 849.0" fill="none" stroke="#141414" stroke-width="1.60" stroke-linejoin="round"/>
<path d="M426.1 852.5 A16.7 6.3 0 0 0 459.5 852.5" fill="none" stroke="#141414" stroke-width="1.00" stroke-linejoin="round"/>
<path d="M426.1 855.5 A16.7 6.3 0 0 0 459.5 855.5" fill="none" stroke="#141414" stroke-width="1.60" stroke-linejoin="round"/>
<path d="M426.1 857.5 A16.7 6.3 0 0 0 459.5 857.5" fill="none" stroke="#141414" stroke-width="0.90" stroke-linejoin="round"/>
<path d="M428.0 836.0 L433.3 844.4 L447.6 845.6 L458.3 836.0 L458.3 842.0 L447.6 851.6 L433.3 850.4 L428.0 842.0Z" fill="#fcfdfb" stroke="#141414" stroke-width="1.10" stroke-linejoin="round"/>
<path d="M433.3 844.4 L433.3 850.4" fill="none" stroke="#141414" stroke-width="1.00" stroke-linejoin="round"/>
<path d="M447.6 845.6 L447.6 851.6" fill="none" stroke="#141414" stroke-width="1.00" stroke-linejoin="round"/>
<path d="M428.0 836.0 L438.0 827.7 L452.3 828.9 L458.3 836.0 L447.6 845.6 L433.3 844.4Z" fill="#fcfdfb" stroke="#141414" stroke-width="1.10" stroke-linejoin="round"/>
<path d="M433.5 796.5 L433.5 837.5 A9.3 4 0 0 0 452.1 837.5 L452.1 796.5 Z" fill="#fcfdfb" stroke="#141414" stroke-width="1.10" stroke-linejoin="round"/>
<ellipse cx="442.8" cy="796.5" rx="9.3" ry="4.0" fill="#fcfdfb" stroke="#141414" stroke-width="1.10"/>
<ellipse cx="442.8" cy="796.0" rx="2.6" ry="1.4" fill="none" stroke="#141414" stroke-width="0.90"/>
<path d="M433.5 809.5 A9.3 4.0 0 0 0 452.1 809.5" fill="none" stroke="#141414" stroke-width="1.00" stroke-linejoin="round"/>
<path d="M433.5 811.5 A9.3 4.0 0 0 0 452.1 811.5" fill="none" stroke="#141414" stroke-width="1.50" stroke-linejoin="round"/>
<path d="M433.5 814.0 A9.3 4.0 0 0 0 452.1 814.0" fill="none" stroke="#141414" stroke-width="1.00" stroke-linejoin="round"/>
<path d="M433.5 822.0 A9.3 4.0 0 0 0 452.1 822.0" fill="none" stroke="#141414" stroke-width="1.00" stroke-linejoin="round"/>
<path d="M433.5 824.0 A9.3 4.0 0 0 0 452.1 824.0" fill="none" stroke="#141414" stroke-width="1.50" stroke-linejoin="round"/>
<path d="M433.5 826.5 A9.3 4.0 0 0 0 452.1 826.5" fill="none" stroke="#141414" stroke-width="1.00" stroke-linejoin="round"/>
<path d="M378.7 785.0 L378.7 798.1 L380.6 801.0 L388.9 801.7 L391.3 799.3 L391.3 785.7" fill="#fcfdfb" stroke="#141414" stroke-width="1.10" stroke-linejoin="round"/>
<path d="M378.7 789.8 Q385.0 792.8 391.3 790.5" fill="none" stroke="#141414" stroke-width="1.00" stroke-linejoin="round"/>
<path d="M378.7 792.9 Q385.0 795.9 391.3 793.6" fill="none" stroke="#141414" stroke-width="1.50" stroke-linejoin="round"/>
<path d="M378.7 795.8 Q385.0 798.8 391.3 796.5" fill="none" stroke="#141414" stroke-width="1.00" stroke-linejoin="round"/>
<path d="M378.7 798.6 Q385.0 801.6 391.3 799.3" fill="none" stroke="#141414" stroke-width="1.50" stroke-linejoin="round"/>
<path d="M375.8 774.3 L381.8 770.7 L391.3 771.9 L394.4 777.9 L394.4 783.8 L388.9 786.7 L378.7 785.7 L375.3 780.3Z" fill="#fcfdfb" stroke="#141414" stroke-width="1.10" stroke-linejoin="round"/>
<path d="M375.8 774.3 L381.8 770.7 L391.3 771.9 L394.4 777.9 L388.9 781.0 L378.7 780.0Z" fill="none" stroke="#141414" stroke-width="1.00" stroke-linejoin="round"/>
<path d="M388.9 781.0 L388.9 786.7 M378.7 780.0 L378.7 785.7" fill="none" stroke="#141414" stroke-width="1.00" stroke-linejoin="round"/>
</g>
<g id="rim">
<ellipse cx="560.5" cy="530.0" rx="92.5" ry="140.2" transform="rotate(26.5 560.5 530.0)" fill="#fcfdfb" stroke="#141414" stroke-width="1.10"/>
<ellipse cx="565.0" cy="532.2" rx="89.8" ry="136.0" transform="rotate(26.5 565.0 532.2)" fill="#fcfdfb" stroke="#141414" stroke-width="1.10"/>
<ellipse cx="566.8" cy="533.1" rx="88.4" ry="134.0" transform="rotate(26.5 566.8 533.1)" fill="#fcfdfb" stroke="#141414" stroke-width="1.60"/>
<ellipse cx="569.9" cy="534.7" rx="87.1" ry="132.0" transform="rotate(26.5 569.9 534.7)" fill="#fcfdfb" stroke="#141414" stroke-width="1.10"/>
<ellipse cx="574.4" cy="536.9" rx="85.5" ry="129.5" transform="rotate(26.5 574.4 536.9)" fill="#fcfdfb" stroke="#141414" stroke-width="1.60"/>
<ellipse cx="579.3" cy="539.4" rx="84.2" ry="127.5" transform="rotate(26.5 579.3 539.4)" fill="#fcfdfb" stroke="#141414" stroke-width="1.10"/>
<ellipse cx="582.4" cy="540.9" rx="83.2" ry="126.0" transform="rotate(26.5 582.4 540.9)" fill="#fcfdfb" stroke="#141414" stroke-width="1.40"/>
<ellipse cx="586.9" cy="543.2" rx="81.2" ry="123.0" transform="rotate(26.5 586.9 543.2)" fill="#fcfdfb" stroke="#141414" stroke-width="1.10"/>
<ellipse cx="592.7" cy="546.1" rx="79.9" ry="121.0" transform="rotate(26.5 592.7 546.1)" fill="#fcfdfb" stroke="#141414" stroke-width="1.10"/>
<ellipse cx="599.9" cy="549.6" rx="78.5" ry="119.0" transform="rotate(26.5 599.9 549.6)" fill="#fcfdfb" stroke="#141414" stroke-width="1.10"/>
<path d="M565.6 663.3 L560.3 660.2 L555.4 656.6 L550.9 652.3 L546.8 647.5 L543.1 642.1 L539.9 636.2 L537.2 629.8 L534.9 623.0 L533.2 615.8 L532.0 608.2 L531.3 600.4 L531.2 592.2 L531.6 583.9 L532.5 575.4 L534.0 566.8 L535.9 558.1 L538.4 549.5 L541.4 540.9 L544.8 532.4 L548.7 524.1 L553.0 516.0 L557.7 508.1 L562.8 500.6 L568.2 493.4 L573.9 486.7 L579.9 480.3 L586.1 474.5 L592.6 469.1 L599.1 464.4 L605.8 460.2 L612.6 456.6 L619.4 453.6 L626.2 451.3 L632.9 449.6 L639.6 448.6 L646.1 448.3 L652.4 448.7 L658.5 449.7 L664.4 451.5 L670.0 453.8 L727.6 482.6 L732.9 485.6 L737.8 489.3 L742.3 493.5 L746.4 498.4 L750.1 503.7 L753.3 509.6 L756.0 516.0 L758.3 522.8 L760.0 530.0 L761.2 537.6 L761.9 545.5 L762.0 553.6 L761.6 562.0 L760.7 570.5 L759.2 579.1 L757.3 587.7 L754.8 596.4 L751.8 604.9 L748.4 613.4 L744.5 621.7 L740.2 629.9 L735.5 637.7 L730.4 645.2 L725.0 652.4 L719.3 659.2 L713.3 665.5 L707.1 671.4 L700.6 676.7 L694.1 681.5 L687.4 685.7 L680.6 689.3 L673.8 692.3 L667.0 694.6 L660.3 696.2 L653.6 697.2 L647.1 697.5 L640.8 697.1 L634.7 696.1 L628.8 694.4 L623.2 692.0Z" fill="#fcfdfb" stroke="none"/>
<path d="M578.4 667.7 L572.8 666.2 L567.5 664.2 L562.5 661.6 L557.7 658.4 L553.3 654.7 L549.2 650.5 L545.5 645.8 L542.2 640.6 L539.3 635.0 L536.8 629.0 L534.8 622.6 L533.2 615.8 L532.1 608.7 L531.4 601.4 L531.2 593.8 L531.4 586.1 L532.1 578.2 L533.3 570.1 L535.0 562.1 L537.0 554.0 L539.6 545.9 L542.5 537.9 L545.9 530.0 L549.6 522.3 L553.7 514.7 L558.1 507.4 L562.9 500.4 L568.0 493.7 L573.3 487.3 L578.9 481.3 L584.7 475.8 L590.6 470.7 L596.7 466.0 L603.0 461.9 L609.3 458.2 L615.6 455.2 L622.0 452.6 L628.3 450.7 L634.6 449.3 L640.8 448.5 L646.8 448.3 L652.8 448.7 L658.5 449.7 L664.0 451.3 L669.2 453.5 L674.2 456.2 L678.9 459.5 L683.2 463.3" fill="none" stroke="#141414" stroke-width="1.60"/>
<path d="M574.0 667.0 L569.0 665.0 L564.2 662.4 L559.7 659.3 L555.5 655.8 L551.6 651.8 L548.0 647.3 L544.8 642.4 L542.0 637.1 L539.6 631.4 L537.5 625.4 L535.9 619.0 L534.6 612.3 L533.8 605.4 L533.4 598.3 L533.5 590.9 L533.9 583.4 L534.8 575.8 L536.1 568.1 L537.9 560.4 L540.0 552.7 L542.5 545.0 L545.4 537.4 L548.7 529.9 L552.3 522.5 L556.2 515.3 L560.5 508.3 L565.1 501.6 L569.9 495.2 L575.0 489.1 L580.3 483.3 L585.8 477.9 L591.4 473.0 L597.2 468.4 L603.2 464.3 L609.2 460.6 L615.2 457.5 L621.3 454.8 L627.4 452.7 L633.4 451.1 L639.4 450.0 L645.2 449.5 L651.0 449.5 L656.6 450.1 L662.0 451.2 L667.2 452.8 L672.2 454.9 L676.9 457.6 L681.3 460.8" fill="none" stroke="#141414" stroke-width="0.90"/>
<path d="M670.0 453.8 L729.0 479.9 M565.6 663.3 L621.9 694.7" stroke="#141414" stroke-width="1" fill="none"/>
<ellipse cx="672.7" cy="586.0" rx="92.1" ry="139.5" transform="rotate(26.5 672.7 586.0)" fill="#fcfdfb" stroke="#0a0a0a" stroke-width="1.70"/>
<ellipse cx="675.4" cy="587.3" rx="92.1" ry="139.5" transform="rotate(26.5 675.4 587.3)" fill="#fcfdfb" stroke="#0a0a0a" stroke-width="2.20"/>
<ellipse cx="678.5" cy="588.8" rx="90.4" ry="136.9" transform="rotate(26.5 678.5 588.8)" fill="#fcfdfb" stroke="#0a0a0a" stroke-width="1.20"/>
<ellipse cx="681.8" cy="590.5" rx="86.2" ry="130.6" transform="rotate(26.5 681.8 590.5)" fill="#fcfdfb" stroke="#0a0a0a" stroke-width="1.70"/>
<defs>
<clipPath id="cpf"><ellipse cx="681.8" cy="590.5" rx="86.2" ry="130.6" transform="rotate(26.5 681.8 590.5)" fill="none" stroke="#141414" stroke-width="1.10"/></clipPath>
<clipPath id="cp0"><ellipse cx="677.2" cy="588.2" rx="85.8" ry="130.0" transform="rotate(26.5 677.2 588.2)" fill="none" stroke="#141414" stroke-width="1.10"/></clipPath>
<clipPath id="cp1"><ellipse cx="674.5" cy="586.8" rx="85.7" ry="129.8" transform="rotate(26.5 674.5 586.8)" fill="none" stroke="#141414" stroke-width="1.10"/></clipPath>
<clipPath id="cp2"><ellipse cx="670.0" cy="584.6" rx="84.8" ry="128.5" transform="rotate(26.5 670.0 584.6)" fill="none" stroke="#141414" stroke-width="1.10"/></clipPath>
<clipPath id="cp3"><ellipse cx="662.9" cy="581.0" rx="84.8" ry="128.5" transform="rotate(26.5 662.9 581.0)" fill="none" stroke="#141414" stroke-width="1.10"/></clipPath>
<clipPath id="cp4"><ellipse cx="656.6" cy="577.9" rx="84.8" ry="128.5" transform="rotate(26.5 656.6 577.9)" fill="none" stroke="#141414" stroke-width="1.10"/></clipPath>
<clipPath id="cp5"><ellipse cx="652.1" cy="575.7" rx="84.2" ry="127.5" transform="rotate(26.5 652.1 575.7)" fill="none" stroke="#141414" stroke-width="1.10"/></clipPath>
<clipPath id="cp6"><ellipse cx="639.6" cy="569.4" rx="81.8" ry="124.0" transform="rotate(26.5 639.6 569.4)" fill="none" stroke="#141414" stroke-width="1.10"/></clipPath>
<clipPath id="cp7"><ellipse cx="650.0" cy="574.6" rx="64.3" ry="97.4" transform="rotate(26.5 650.0 574.6)" fill="none" stroke="#141414" stroke-width="1.10"/></clipPath>
</defs>
<g clip-path="url(#cpf)">
<ellipse cx="677.2" cy="588.2" rx="85.8" ry="130.0" transform="rotate(26.5 677.2 588.2)" fill="none" stroke="#141414" stroke-width="1.10"/>
<g clip-path="url(#cp0)">
<ellipse cx="674.5" cy="586.8" rx="85.7" ry="129.8" transform="rotate(26.5 674.5 586.8)" fill="none" stroke="#141414" stroke-width="1.10"/>
<g clip-path="url(#cp1)">
<ellipse cx="670.0" cy="584.6" rx="84.8" ry="128.5" transform="rotate(26.5 670.0 584.6)" fill="none" stroke="#141414" stroke-width="1.10"/>
<g clip-path="url(#cp2)">
<ellipse cx="662.9" cy="581.0" rx="84.8" ry="128.5" transform="rotate(26.5 662.9 581.0)" fill="none" stroke="#141414" stroke-width="1.30"/>
<g clip-path="url(#cp3)">
<ellipse cx="656.6" cy="577.9" rx="84.8" ry="128.5" transform="rotate(26.5 656.6 577.9)" fill="none" stroke="#141414" stroke-width="1.10"/>
<g clip-path="url(#cp4)">
<ellipse cx="652.1" cy="575.7" rx="84.2" ry="127.5" transform="rotate(26.5 652.1 575.7)" fill="none" stroke="#141414" stroke-width="1.30"/>
<g clip-path="url(#cp5)">
<ellipse cx="639.6" cy="569.4" rx="81.8" ry="124.0" transform="rotate(26.5 639.6 569.4)" fill="none" stroke="#141414" stroke-width="1.30"/>
<g clip-path="url(#cp6)">
<ellipse cx="650.0" cy="574.6" rx="64.3" ry="97.4" transform="rotate(26.5 650.0 574.6)" fill="none" stroke="#141414" stroke-width="1.10"/>
<g clip-path="url(#cp7)">
<ellipse cx="634.8" cy="567.0" rx="60.1" ry="91.0" transform="rotate(26.5 634.8 567.0)" fill="none" stroke="#141414" stroke-width="1.10"/>
<ellipse cx="633.9" cy="566.6" rx="55.4" ry="84.0" transform="rotate(26.5 633.9 566.6)" fill="none" stroke="#141414" stroke-width="1.10"/>
<ellipse cx="633.4" cy="566.4" rx="53.8" ry="81.5" transform="rotate(26.5 633.4 566.4)" fill="none" stroke="#141414" stroke-width="1.10"/>
<ellipse cx="630.8" cy="565.0" rx="33.7" ry="51.0" transform="rotate(26.5 630.8 565.0)" fill="#fcfdfb" stroke="#141414" stroke-width="1.20"/>
<defs><clipPath id="cph"><ellipse cx="630.8" cy="565.0" rx="33.7" ry="51.0" transform="rotate(26.5 630.8 565.0)" fill="none" stroke="#141414" stroke-width="1.10"/></clipPath></defs>
<g clip-path="url(#cph)">
<ellipse cx="627.2" cy="563.2" rx="32.3" ry="49.0" transform="rotate(26.5 627.2 563.2)" fill="none" stroke="#141414" stroke-width="1.10"/>
<ellipse cx="614.2" cy="556.8" rx="40.9" ry="62.0" transform="rotate(26.5 614.2 556.8)" fill="none" stroke="#141414" stroke-width="1.10"/>
<ellipse cx="605.2" cy="552.3" rx="40.9" ry="62.0" transform="rotate(26.5 605.2 552.3)" fill="none" stroke="#141414" stroke-width="1.10"/>
</g>
<ellipse cx="637.9" cy="509.3" rx="2.1" ry="3.2" transform="rotate(26.5 637.9 509.3)" fill="#fcfdfb" stroke="#141414" stroke-width="0.9"/>
<ellipse cx="666.5" cy="516.0" rx="2.1" ry="3.2" transform="rotate(26.5 666.5 516.0)" fill="#fcfdfb" stroke="#141414" stroke-width="0.9"/>
<ellipse cx="676.1" cy="551.3" rx="2.1" ry="3.2" transform="rotate(26.5 676.1 551.3)" fill="#fcfdfb" stroke="#141414" stroke-width="0.9"/>
<ellipse cx="658.7" cy="594.9" rx="2.1" ry="3.2" transform="rotate(26.5 658.7 594.9)" fill="#fcfdfb" stroke="#141414" stroke-width="0.9"/>
<ellipse cx="626.7" cy="621.4" rx="2.1" ry="3.2" transform="rotate(26.5 626.7 621.4)" fill="#fcfdfb" stroke="#141414" stroke-width="0.9"/>
<ellipse cx="597.9" cy="615.4" rx="2.1" ry="3.2" transform="rotate(26.5 597.9 615.4)" fill="#fcfdfb" stroke="#141414" stroke-width="0.9"/>
<!--DISC-->
</g></g></g></g></g></g></g></g></g>
</g>
<!-- 40_leaders.txt -->
<path d="M286.0 398.0 L455.0 478.0" fill="none" stroke="#141414" stroke-width="1.12" stroke-dasharray="22,3,4,3"/>
<path d="M724.0 575.5 L811.5 615.0" fill="none" stroke="#141414" stroke-width="1.12" stroke-dasharray="14,5"/>
<path d="M676.5 551.5 L724.0 575.5" fill="none" stroke="#141414" stroke-width="1.12"/>
<path d="M342.0 48.6 L317.8 92.3" stroke="#141414" stroke-width="1.00" fill="none"/><path d="M313.0 101.0 L316.1 91.3 L319.6 93.2 Z" fill="#141414" stroke="#141414" stroke-width="0.5"/>
<path d="M630.2 291.2 L596.9 385.5" stroke="#141414" stroke-width="1.00" fill="none"/><path d="M593.6 394.9 L595.0 384.8 L598.8 386.1 Z" fill="#141414" stroke="#141414" stroke-width="0.5"/>
<path d="M718.5 435.8 L622.0 548.0" fill="none" stroke="#141414" stroke-width="1.12"/>
<path d="M529.5 700.5 L600.5 577.0" fill="none" stroke="#141414" stroke-width="1.12"/>
<path d="M566.0 700.5 L611.5 592.0" fill="none" stroke="#141414" stroke-width="1.12"/>
<path d="M791.8 710.6 L768.8 699.8" stroke="#141414" stroke-width="1.00" fill="none"/><path d="M759.7 695.6 L769.6 698.0 L767.9 701.6 Z" fill="#141414" stroke="#141414" stroke-width="0.5"/>
<path d="M730.1 660.6 L743.7 677.8 L755.5 672.9" fill="none" stroke="#141414" stroke-width="1.12"/>
<path d="M755.5 672.9 L755.5 686.0" fill="none" stroke="#141414" stroke-width="1.12" stroke-dasharray="2,2"/>
<path d="M817.2 541.7 L805.8 541.7" fill="none" stroke="#141414" stroke-width="1.12"/>
<path d="M805.8 541.7 L815.6 602.6" stroke="#141414" stroke-width="1.00" fill="none"/><path d="M817.2 612.5 L813.6 602.9 L817.6 602.3 Z" fill="#141414" stroke="#141414" stroke-width="0.5"/>
<path d="M287.5 773.0 L305.2 815.2" stroke="#141414" stroke-width="1.00" fill="none"/><path d="M309.1 824.4 L303.4 816.0 L307.1 814.4 Z" fill="#141414" stroke="#141414" stroke-width="0.5"/>
<path d="M347.0 791.8 L369.4 810.7" stroke="#141414" stroke-width="1.00" fill="none"/><path d="M377.0 817.2 L368.1 812.3 L370.7 809.2 Z" fill="#141414" stroke="#141414" stroke-width="0.5"/>
<path d="M349.5 751.3 L369.4 768.3" stroke="#141414" stroke-width="1.00" fill="none"/><path d="M377.0 774.8 L368.1 769.8 L370.7 766.8 Z" fill="#141414" stroke="#141414" stroke-width="0.5"/>
<path d="M462.5 745.0 L450.5 781.0" stroke="#141414" stroke-width="1.00" fill="none"/><path d="M447.3 790.5 L448.6 780.4 L452.4 781.6 Z" fill="#141414" stroke="#141414" stroke-width="0.5"/>
<!-- 45_smallparts.txt -->
<ellipse cx="618.7" cy="553.0" rx="4.0" ry="5.0" transform="rotate(-35.0 618.7 553.0)" fill="#111" stroke="#141414" stroke-width="1.12"/>
<path d="M621.5 549.5 L631.5 541.3" fill="none" stroke="#141414" stroke-width="2.40"/>
<path d="M599.0 571.5 L602.0 570.0 L605.5 572.5 L606.5 576.0 L603.5 577.5 L600.5 576.0Z" fill="#111" stroke="#141414" stroke-width="1.12"/>
<path d="M596.5 569.0 L599.5 568.0 L600.5 571.0 L598.0 572.5Z" fill="#111" stroke="#141414" stroke-width="1.12"/>
<path d="M610.5 579.0 L615.0 577.5 L618.5 580.5 L617.5 585.0 L613.0 586.5 L610.0 583.5Z" fill="#111" stroke="#141414" stroke-width="1.12"/>
<path d="M612.0 589.0 L608.5 598.0" fill="none" stroke="#141414" stroke-width="2.00"/>
<path d="M609.3 605.4 L616.5 597.1 L623.6 601.8 L615.3 610.7Z" fill="#111" stroke="#141414" stroke-width="1.12"/>
<path d="M621.3 593.5 L627.2 587.5 L630.8 591.1 L625.3 597.1Z" fill="none" stroke="#141414" stroke-width="1.12"/>
<path d="M627.2 585.1 L632.5 579.2 L636.7 582.8 L631.5 588.7Z" fill="none" stroke="#141414" stroke-width="1.12"/>
<path d="M622.6 593.6 L626.9 589.3 L629.3 591.4 L625.2 595.6Z" fill="none" stroke="#141414" stroke-width="1.12"/>
<path d="M628.5 585.2 L632.4 581.0 L635.2 583.0 L631.4 587.1Z" fill="none" stroke="#141414" stroke-width="1.12"/>
<path d="M608.1 607.8 L634.4 576.8 L639.1 580.4 L612.9 612.6 L608.1 607.8" fill="none" stroke="#141414" stroke-width="1.12"/>
<path d="M723.0 639.4 L731.6 627.6 L739.1 631.9 L730.5 644.7Z" fill="#111" stroke="#141414" stroke-width="1.12"/>
<path d="M717.6 645.8 L723.0 642.6 L727.3 645.8 L722.6 650.1Z" fill="none" stroke="#141414" stroke-width="1.12"/>
<path d="M711.2 655.5 L716.5 651.2 L720.8 655.5 L715.5 659.8Z" fill="none" stroke="#141414" stroke-width="1.12"/>
<path d="M709.5 656.0 L731.5 626.0 L740.5 631.5 L717.0 662.0Z" fill="none" stroke="#141414" stroke-width="1.12"/>
<ellipse cx="711.2" cy="635.1" rx="2.2" ry="3.0" transform="rotate(26.0 711.2 635.1)" fill="none" stroke="#141414" stroke-width="1.12"/>
<path d="M698.3 616.9 L710.1 633.0" fill="none" stroke="#141414" stroke-width="1.12"/>
<ellipse cx="816.4" cy="618.6" rx="5.2" ry="5.8" transform="rotate(20.0 816.4 618.6)" fill="none" stroke="#141414" stroke-width="1.80"/>
<ellipse cx="817.0" cy="618.0" rx="2.4" ry="2.8" transform="rotate(20.0 817.0 618.0)" fill="none" stroke="#141414" stroke-width="1.12"/>
<path d="M811.5 616.0 L814.0 612.5 L819.0 612.5" fill="none" stroke="#141414" stroke-width="1.12"/>
<ellipse cx="754.8" cy="692.1" rx="4.3" ry="4.8" transform="rotate(0.0 754.8 692.1)" fill="#111" stroke="#141414" stroke-width="1.12"/>
<!-- 50_logo.txt -->
<path d="M275.7 395.6 C276.9 392.4 279.0 382.3 282.8 376.7 C286.6 371.2 292.4 366.2 298.5 362.3 C304.6 358.4 312.5 354.6 319.5 353.1 C326.5 351.6 335.5 352.4 340.5 353.1 C345.4 353.8 347.7 356.6 349.1 357.3" fill="none" stroke="#707070" stroke-width="0.90"/>
<path d="M349.1 357.3 L355.4 359.7 L357.5 370.9 L367.2 379.3 L339.9 379.3" fill="none" stroke="#707070" stroke-width="0.90"/>
<path d="M339.9 379.3 C340.3 378.0 341.6 373.6 342.3 371.5 C342.9 369.3 343.3 367.6 343.9 366.2 C344.4 364.8 345.4 363.6 345.7 363.1" fill="none" stroke="#707070" stroke-width="0.90"/>
<path d="M345.7 363.1 C342.9 362.3 334.6 358.7 328.7 358.4 C322.8 358.0 315.8 358.8 310.3 361.0 C304.8 363.2 299.8 367.7 295.9 371.5 C292.0 375.2 288.9 379.5 286.7 383.3 C284.5 387.0 283.4 392.0 282.8 393.7" fill="none" stroke="#707070" stroke-width="0.90"/>
<path d="M339.9 379.3 C338.1 378.5 332.7 375.3 328.7 374.6 C324.6 374.0 319.7 374.2 315.5 375.4 C311.4 376.6 305.7 380.9 303.7 382.0" fill="none" stroke="#707070" stroke-width="0.90"/>
<path d="M292.0 372.8 C293.0 371.9 295.4 369.0 298.5 367.5 C301.6 366.1 307.7 364.3 310.3 364.1 C312.9 363.9 314.5 365.0 314.2 366.2 C314.0 367.4 311.4 369.7 309.0 371.5 C306.6 373.2 302.4 375.8 299.8 376.7 C297.2 377.6 294.6 377.4 293.3 376.7 C292.0 376.1 292.2 373.4 292.0 372.8" fill="none" stroke="#707070" stroke-width="0.90"/>
<path d="M277.5 393.7 C279.5 394.0 285.2 396.4 289.3 395.1 C293.5 393.7 298.1 388.7 302.4 385.9 C306.8 383.0 311.2 379.8 315.5 378.0 C319.9 376.3 326.5 375.8 328.7 375.4" fill="none" stroke="#707070" stroke-width="0.90"/>
<path d="M275.7 395.6 C276.7 396.0 279.2 397.8 281.5 398.2 C283.7 398.6 288.0 398.2 289.3 398.2" fill="none" stroke="#707070" stroke-width="0.90"/>
<path d="M263.6 388.5 C264.5 387.6 267.1 390.7 268.9 393.7 C270.6 396.8 273.3 402.5 274.1 406.9 C274.9 411.2 274.6 419.3 273.6 420.0 C272.6 420.6 270.0 414.3 268.4 410.8 C266.7 407.3 264.4 402.7 263.6 399.0 C262.8 395.3 262.8 389.4 263.6 388.5Z" fill="none" stroke="#707070" stroke-width="0.90"/>
<path d="M260.5 418.7 C261.4 417.6 265.5 420.0 268.4 422.6 C271.2 425.2 275.3 430.2 277.5 434.4 C279.7 438.5 282.3 446.4 281.5 447.5 C280.6 448.6 275.3 444.0 272.3 440.9 C269.2 437.9 265.1 432.9 263.1 429.1 C261.1 425.4 259.6 419.8 260.5 418.7Z" fill="none" stroke="#707070" stroke-width="0.90"/>
<path d="M274.9 418.7 C275.0 416.0 279.0 408.8 280.9 405.5 C282.9 402.3 286.0 397.9 286.7 399.0 C287.4 400.1 286.5 408.4 285.4 412.1 C284.3 415.8 281.9 420.2 280.2 421.3 C278.4 422.4 274.8 421.3 274.9 418.7Z" fill="none" stroke="#707070" stroke-width="0.90"/>
<path d="M278.8 431.8 C278.4 428.7 281.2 421.5 282.8 418.7 C284.3 415.8 286.9 413.4 288.0 414.7 C289.1 416.0 289.8 422.8 289.3 426.5 C288.9 430.2 287.1 436.1 285.4 437.0 C283.6 437.9 279.3 434.8 278.8 431.8Z" fill="none" stroke="#707070" stroke-width="0.90"/>
<path d="M272.3 451.4 C272.9 450.1 279.9 450.3 284.1 451.4 C288.2 452.5 293.7 455.1 297.2 458.0 C300.7 460.8 305.9 467.2 305.1 468.5 C304.2 469.8 296.1 467.4 292.0 465.9 C287.8 464.3 283.4 461.7 280.2 459.3 C276.9 456.9 271.6 452.7 272.3 451.4Z" fill="none" stroke="#707070" stroke-width="0.90"/>
<path d="M289.3 450.1 C286.9 446.0 289.5 440.7 290.6 438.3 C291.7 435.9 293.9 433.7 295.9 435.7 C297.9 437.7 300.9 445.5 302.4 450.1 C304.0 454.7 307.2 463.2 305.1 463.2 C302.9 463.2 291.7 454.3 289.3 450.1Z" fill="none" stroke="#707070" stroke-width="0.90"/>
<path d="M303.7 476.3 L314.8 454.8 L362.7 454.8" fill="none" stroke="#707070" stroke-width="0.90"/>
<path d="M303.7 476.3 L313.7 480.3 L318.7 470.3 L337.8 469.3 L343.9 478.2 L354.9 471.1 L350.9 463.2 L360.1 459.3 L363.3 455.4" fill="none" stroke="#707070" stroke-width="0.90"/>
<g style="filter:grayscale(1)"><!-- title -->
<text x="407" y="35" font-size="16.5" font-weight="bold" fill="#111" xml:space="preserve">ПОКАЗАН  В 4633</text>
<!-- detail box -->
<rect x="256.2" y="701.2" width="236.6" height="179.6" fill="none" stroke="#0a0a0a" stroke-width="2.6"/>
<!-- callouts -->
<g font-size="16.5" text-anchor="middle" fill="#303030" stroke="none">
<g fill="none" stroke="#141414" stroke-width="1">
<circle cx="348.5" cy="35" r="15"/>
<circle cx="635" cy="277" r="15"/>
<circle cx="728.6" cy="424.7" r="15"/>
<circle cx="805" cy="717" r="15"/>
<circle cx="522.4" cy="713.6" r="15"/>
<circle cx="558.4" cy="713.6" r="15"/>
<circle cx="338.3" cy="741.1" r="15"/>
<circle cx="466" cy="730.4" r="15"/>
<circle cx="281.8" cy="759" r="15"/>
<circle cx="336.9" cy="780.5" r="15"/>
</g>
<text x="348.5" y="41">2</text>
<text x="635" y="283">1</text>
<text x="728.6" y="430.7">6</text>
<text x="805" y="723">3</text>
<text x="522.4" y="719.6">4</text>
<text x="558.4" y="719.6">5</text>
<text x="338.3" y="747.1">4</text>
<text x="466" y="736.4">3</text>
<text x="281.8" y="765">6</text>
<text x="336.9" y="786.5">5</text>
<text x="825.8" y="548.6" font-size="16.5">A</text>
</g>
<!-- watermark -->
<g font-family="Liberation Sans, sans-serif" font-weight="bold" fill="none" stroke="#707070" stroke-width="0.95">
<text transform="translate(375.2,375.4) skewX(-14) scale(0.862,1)" font-size="32.5" stroke-width="1.05">группа компаний</text>
<text transform="translate(315.5,448.8) skewX(-14) scale(0.76,1)" font-size="91" stroke-width="1.2">А</text>
<text transform="translate(366.2,439.5) skewX(-14) scale(0.645,1)" font-size="77.5" stroke-width="1.35">ГРОСНАБ</text>
<text transform="translate(389,461.9) skewX(-14) scale(1.207,1)" font-size="34.7" stroke-width="0.85">техсервис</text>
</g>
</g>
</svg>
</body></html>
